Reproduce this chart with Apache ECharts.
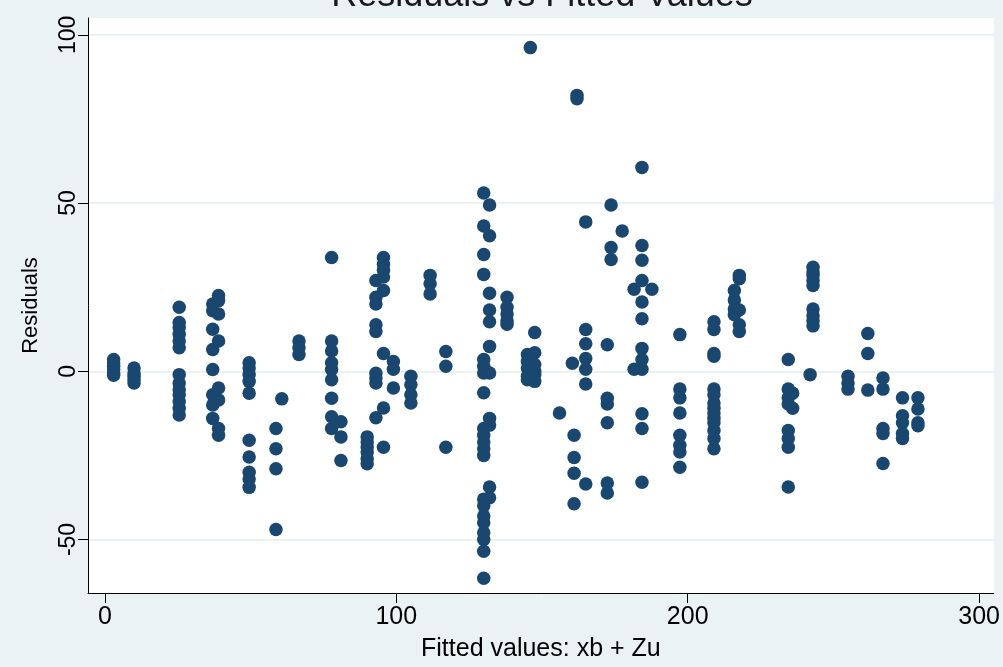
<!DOCTYPE html>
<html>
<head>
<meta charset="utf-8">
<script src="https://cdn.jsdelivr.net/npm/echarts@6/dist/echarts.min.js"></script>
<style>
html,body{margin:0;padding:0;background:#eaf2f3;}
#chart{width:1003px;height:667px;}
</style>
</head>
<body>
<div id="chart"></div>
<script>
// Fitted value (x) of each vertical group of observations
const groupFitted = [
  3, 10, 25.5, 37, 39, 49.5, 58.7, 60.7, 66.6, 77.8, 81, 90, 93, 95.6, 99, 105, 111.6, 117,
  130, 132, 138, 145, 147.5, 146, 156, 160.4, 161, 162, 165, 172.4, 173.7, 177.5,
  181.6, 184.3, 187.7, 197.3, 209, 216, 217.7, 234.5, 236, 243, 242, 255, 261.8, 267, 273.7, 279
];
// Residuals of the observations in each group (same order as groupFitted)
const groupResiduals = [
  [3.5, 2.5, 1.5, 0.5, -0.5, -1.2],
  [1, -0.5, -1.5, -2.5, -3.5],
  [19, 14.5, 13, 11, 9, 7, -1, -3.5, -5.5, -7, -9, -11, -13],
  [20, 18, 12.5, 6.5, 0.5, -7, -10, -14],
  [22.5, 21, 17, 9, -5, -8.5, -17, -19],
  [2.5, 1, -1, -3, -6.5, -20.5, -25.5, -30, -32, -34.5],
  [-17, -23, -29, -47],
  [-8.2],
  [9, 7, 5],
  [33.8, 9, 6, 2.5, 0.5, -2.5, -8, -13.5, -17],
  [-15, -19.5, -26.5],
  [-19.5, -21, -22.5, -24, -26, -27.5],
  [27, 22, 20, 13.8, 11.8, -0.6, -2, -3.5, -13.8],
  [33.8, 31.8, 30, 28, 24, 5.3, -10.9, -22.6],
  [2.9, 0.6, -5],
  [-1.5, -4, -7, -9.4],
  [28.5, 26, 23],
  [5.9, 1.5, -22.6],
  [53, 43.2, 34.7, 28.8, 3.5, 1.5, -0.5, -6.4, -17, -19, -21, -23, -25, -38, -40, -43, -45, -48, -50, -53.5, -61.5],
  [49.4, 40.3, 23.2, 18.2, 14.7, 7.4, -0.5, -14, -16, -34.4, -37.6],
  [22, 19, 17, 15, 14],
  [5, 3, 1, -1.5, -2.5],
  [11.5, 5.5, 2, 0, -1, -3],
  [96.2],
  [-12.4],
  [2.4],
  [-19, -25.6, -30.3, -39.4],
  [82, 81],
  [44.4, 12.4, 8.2, 3.8, 0.6, -3.8, -33.5],
  [7.9, -8, -9.7, -15.3, -33.2, -36.2],
  [49.4, 36.8, 33.2],
  [41.7],
  [24.4, 0.6],
  [60.6, 37.4, 33, 27, 20.6, 15.6, 6.8, 3.5, 0.6, -12.6, -17, -33],
  [24.4],
  [10.9, -5.3, -7.9, -12.4, -19, -22, -24, -28.5],
  [14.7, 12.4, 5.3, 4.5, -5.3, -7, -9.4, -11, -12.4, -14, -15.3, -17.6, -20, -23],
  [24, 21.2, 18.5, 16.8],
  [28.5, 27.5, 18.2, 13.8, 11.8],
  [3.5, -5.3, -7.9, -9.7, -17.6, -20, -22.6, -34.4],
  [-6.5, -11],
  [30.9, 29.5, 28.5, 27, 25.5, 18.5, 16.5, 15, 13.5],
  [-1],
  [-1.5, -3.5, -5.3],
  [11.2, 5.3, -5.6],
  [-2, -5.3, -17, -18.5, -27.4],
  [-7.9, -13.2, -15.3, -18.5, -20],
  [-7.9, -11.2, -15.3, -16.2]
];
const xTicks = [0, 100, 200, 300];
const yTicks = [-50, 0, 50, 100];
const titleText = 'Residuals vs Fitted Values';
const xTitle = 'Fitted values: xb + Zu';
const yTitle = 'Residuals';

const points = [];
groupFitted.forEach(function (x, i) {
  groupResiduals[i].forEach(function (r) { points.push([x, r]); });
});

const FONT = '"Liberation Sans", Arial, sans-serif';
const chart = echarts.init(document.getElementById('chart'), null, {renderer: 'canvas'});
chart.setOption({
  backgroundColor: '#eaf2f3',
  animation: false,
  graphic: [{
    type: 'text',
    x: 542,
    y: -22,
    silent: true,
    style: {
      text: titleText,
      fontFamily: FONT,
      fontSize: 36,
      fill: '#1a1a1a',
      align: 'center',
      verticalAlign: 'top'
    }
  }],
  grid: {
    left: 88, right: 6, top: 18, bottom: 68,
    show: true, backgroundColor: '#ffffff', borderWidth: 0
  },
  xAxis: {
    type: 'value',
    min: -5.8, max: 305,
    name: xTitle,
    nameLocation: 'middle',
    nameGap: 44,
    nameTextStyle: {fontFamily: FONT, fontSize: 25, color: '#000'},
    axisLine: {show: true, onZero: false, lineStyle: {color: '#000', width: 1}},
    axisTick: {show: true, length: 10, customValues: xTicks, lineStyle: {color: '#000'}},
    axisLabel: {customValues: xTicks, margin: 12, fontFamily: FONT, fontSize: 25, color: '#000'},
    splitLine: {show: false}
  },
  yAxis: {
    type: 'value',
    min: -65.9, max: 105,
    name: yTitle,
    nameLocation: 'middle',
    nameRotate: 90,
    nameGap: 46,
    nameTextStyle: {fontFamily: FONT, fontSize: 22, color: '#000'},
    axisLine: {show: true, onZero: false, lineStyle: {color: '#000', width: 1}},
    axisTick: {show: true, length: 10, customValues: yTicks, lineStyle: {color: '#000'}},
    axisLabel: {customValues: yTicks, rotate: 90, margin: 8, fontFamily: FONT, fontSize: 23, color: '#000'},
    splitLine: {show: true, lineStyle: {color: '#eaf2f3', width: 2}}
  },
  series: [{
    type: 'scatter',
    data: points,
    symbol: 'circle',
    symbolSize: 13.5,
    itemStyle: {color: '#1a476f', opacity: 1},
    emphasis: {disabled: true}
  }]
});
</script>
</body>
</html>
